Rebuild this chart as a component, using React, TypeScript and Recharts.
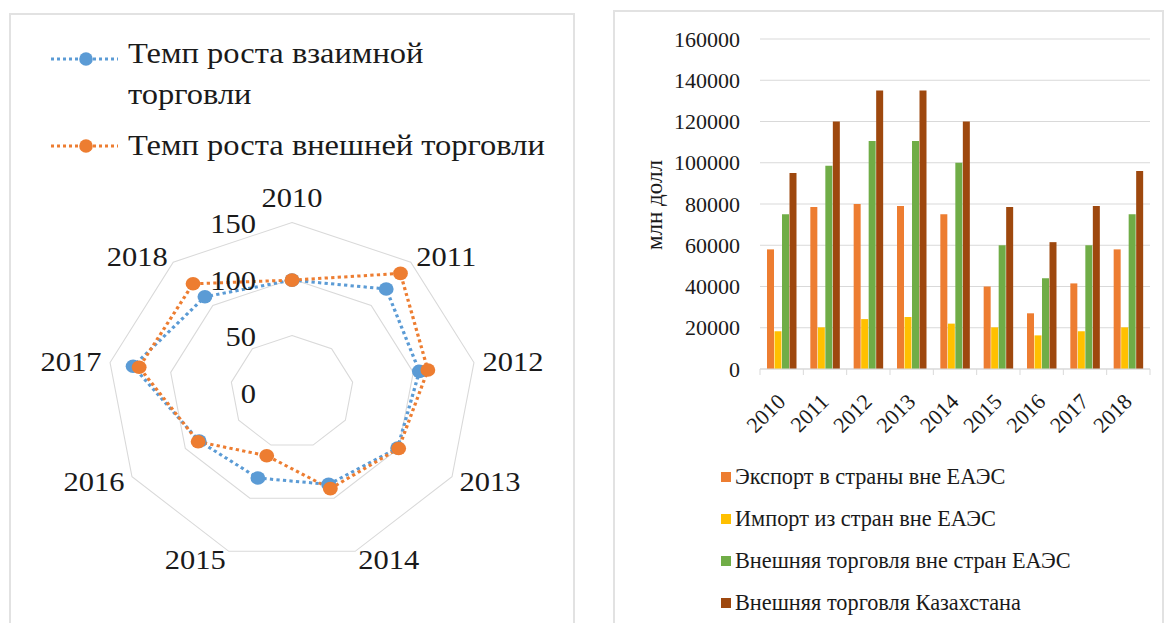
import React from "react";
import {
  Bar,
  BarChart,
  CartesianGrid,
  PolarAngleAxis,
  PolarGrid,
  PolarRadiusAxis,
  Radar,
  RadarChart,
  XAxis,
  YAxis,
} from "recharts";

const years = ["2010", "2011", "2012", "2013", "2014", "2015", "2016", "2017", "2018"];

// темпы роста, %
const mutualGrowth = [99, 119, 105, 99, 87, 81, 87, 131, 110];
const externalGrowth = [99, 137, 112, 100, 91, 60, 88, 126, 125];
const radarTicks = [0, 50, 100, 150];

// млн долл
const exportOutside = [58000, 78500, 80000, 79000, 75000, 40000, 27000, 41500, 58000];
const importOutside = [18300, 20200, 24200, 25200, 22000, 20200, 16300, 18300, 20200];
const tradeOutside = [75000, 98500, 110500, 110500, 100000, 60000, 44000, 60000, 75000];
const tradeKazakhstan = [95000, 120000, 135000, 135000, 120000, 78500, 61500, 79000, 96000];
const barTicks = [0, 20000, 40000, 60000, 80000, 100000, 120000, 140000, 160000];

const barLegend = [
  { key: "export", name: "Экспорт в страны вне ЕАЭС", color: "#ED7D31" },
  { key: "import", name: "Импорт из стран вне ЕАЭС", color: "#FFC000" },
  { key: "outside", name: "Внешняя торговля вне стран ЕАЭС", color: "#70AD47" },
  { key: "kz", name: "Внешняя торговля Казахстана", color: "#9E480E" },
];

const BLUE = "#5B9BD5";
const ORANGE = "#ED7D31";
const FONT = "'Liberation Serif', 'Times New Roman', serif";
const INK = "#1a1a1a";
const GRID = "#d9d9d9";

// left picture is slightly stretched horizontally in the source
const STRETCH = 1.09;
const CX = 292;
const CY = 392;
const R = 169.5;

const PLOT_W = 390;
const BAND = PLOT_W / years.length;

const radarData = years.map((year, i) => ({
  year,
  mutual: mutualGrowth[i],
  external: externalGrowth[i],
}));

const barData = years.map((year, i) => ({
  year,
  export: exportOutside[i],
  import: importOutside[i],
  outside: tradeOutside[i],
  kz: tradeKazakhstan[i],
}));

const svgText = { fontFamily: FONT };

function AngleTick(props: any) {
  const { x, y, textAnchor, payload } = props;
  const top = textAnchor === "middle";
  return (
    <text
      x={x}
      y={top ? y - 17 : y}
      dy="0.35em"
      textAnchor={textAnchor}
      fontSize={28}
      style={svgText}
      fill={INK}
    >
      {payload.value}
    </text>
  );
}

function RadiusTick(props: any) {
  const { x, y, payload } = props;
  return (
    <text x={x - 33} y={y + 1} dy="0.35em" textAnchor="end" fontSize={28} style={svgText} fill={INK}>
      {payload.value}
    </text>
  );
}

function ValueTick(props: any) {
  const { x, y, payload } = props;
  return (
    <text x={x} y={y} dy="0.35em" textAnchor="end" fontSize={22} style={svgText} fill={INK}>
      {payload.value}
    </text>
  );
}

function YearTick(props: any) {
  const { x, y, payload, index } = props;
  const axisY = y - 8;
  const last = index === years.length - 1;
  return (
    <g>
      <line x1={x - BAND / 2} y1={axisY} x2={x - BAND / 2} y2={axisY + 6} stroke={GRID} />
      {last && <line x1={x + BAND / 2} y1={axisY} x2={x + BAND / 2} y2={axisY + 6} stroke={GRID} />}
      <text
        x={x + 5}
        y={y + 26}
        textAnchor="end"
        transform={`rotate(-45, ${x + 5}, ${y + 26})`}
        fontSize={22}
        style={svgText}
        fill={INK}
      >
        {payload.value}
      </text>
    </g>
  );
}

function LineMarker({ color }: { color: string }) {
  return (
    <svg width={70} height={20} style={{ display: "block" }}>
      <line x1={1} y1={10} x2={68} y2={10} stroke={color} strokeWidth={3} strokeDasharray="3 3" />
      <circle cx={36} cy={10} r={6.8} fill={color} />
    </svg>
  );
}

const legendText: React.CSSProperties = {
  position: "absolute",
  left: 128,
  fontFamily: FONT,
  fontSize: 29,
  color: INK,
  whiteSpace: "nowrap",
  transform: "scaleX(1.12)",
  transformOrigin: "0 0",
};

export default function App() {
  return (
    <div
      style={{
        position: "absolute",
        left: 0,
        top: 0,
        width: 1164,
        height: 623,
        background: "#fff",
        overflow: "hidden",
        fontFamily: FONT,
      }}
    >
      {/* panels */}
      <div
        style={{
          position: "absolute",
          left: 9,
          top: 13,
          width: 562,
          height: 640,
          border: "2px solid #e2e2e2",
        }}
      />
      <div
        style={{
          position: "absolute",
          left: 613,
          top: 10,
          width: 547,
          height: 640,
          border: "2px solid #e2e2e2",
        }}
      />

      {/* radar legend */}
      <div style={{ position: "absolute", left: 50, top: 49 }}>
        <LineMarker color={BLUE} />
      </div>
      <div style={{ position: "absolute", left: 50, top: 136 }}>
        <LineMarker color={ORANGE} />
      </div>
      <div style={{ ...legendText, top: 33, lineHeight: "41px" }}>
        Темп роста взаимной
        <br />
        торговли
      </div>
      <div style={{ ...legendText, top: 125, lineHeight: "40px" }}>Темп роста внешней торговли</div>

      {/* radar */}
      <div
        style={{
          position: "absolute",
          left: 0,
          top: 0,
          width: 580,
          height: 623,
          transform: `scaleX(${STRETCH})`,
          transformOrigin: `${CX}px 0px`,
        }}
      >
        <RadarChart
          width={580}
          height={623}
          data={radarData}
          cx={CX}
          cy={CY}
          outerRadius={R}
          margin={{ top: 0, right: 0, bottom: 0, left: 0 }}
        >
          <PolarGrid gridType="polygon" radialLines={false} stroke={GRID} />
          <PolarAngleAxis dataKey="year" tickLine={false} axisLine={false} tick={<AngleTick />} />
          <PolarRadiusAxis
            angle={90}
            domain={[0, 150]}
            ticks={radarTicks as any}
            tickCount={4}
            axisLine={false}
            tick={<RadiusTick />}
          />
          <Radar
            dataKey="mutual"
            stroke={BLUE}
            strokeWidth={3}
            strokeDasharray="3 3"
            fill="none"
            fillOpacity={0}
            dot={{ r: 6.8, fill: BLUE, fillOpacity: 1, stroke: "none", strokeDasharray: "0" }}
            isAnimationActive={false}
          />
          <Radar
            dataKey="external"
            stroke={ORANGE}
            strokeWidth={3}
            strokeDasharray="3 3"
            fill="none"
            fillOpacity={0}
            dot={{ r: 6.8, fill: ORANGE, fillOpacity: 1, stroke: "none", strokeDasharray: "0" }}
            isAnimationActive={false}
          />
        </RadarChart>
      </div>

      {/* bar chart */}
      <div
        style={{
          position: "absolute",
          left: 555,
          top: 192,
          width: 200,
          height: 26,
          lineHeight: "26px",
          textAlign: "center",
          fontSize: 23,
          color: INK,
          transform: "rotate(-90deg)",
        }}
      >
        млн долл
      </div>
      <div style={{ position: "absolute", left: 600, top: 0 }}>
        <BarChart
          width={564}
          height={623}
          data={barData}
          margin={{ top: 39, right: 14, bottom: 194, left: 100 }}
          barSize={7}
          barGap={0.5}
        >
          <CartesianGrid vertical={false} stroke={GRID} />
          <XAxis
            dataKey="year"
            height={60}
            interval={0}
            tickLine={false}
            axisLine={{ stroke: GRID }}
            tick={<YearTick />}
          />
          <YAxis
            width={60}
            domain={[0, 160000]}
            ticks={barTicks}
            interval={0}
            tickLine={false}
            axisLine={false}
            tickMargin={14}
            tick={<ValueTick />}
          />
          {barLegend.map((s) => (
            <Bar key={s.key} dataKey={s.key} name={s.name} fill={s.color} isAnimationActive={false} />
          ))}
        </BarChart>
      </div>

      {/* bar legend */}
      {barLegend.map((s, i) => (
        <div
          key={s.key}
          style={{
            position: "absolute",
            left: 721,
            top: 465 + i * 42,
            height: 24,
            display: "flex",
            alignItems: "center",
            fontFamily: FONT,
            fontSize: 22.3,
            color: INK,
            whiteSpace: "nowrap",
          }}
        >
          <span style={{ width: 10, height: 10, background: s.color, marginRight: 4, display: "inline-block" }} />
          {s.name}
        </div>
      ))}
    </div>
  );
}
